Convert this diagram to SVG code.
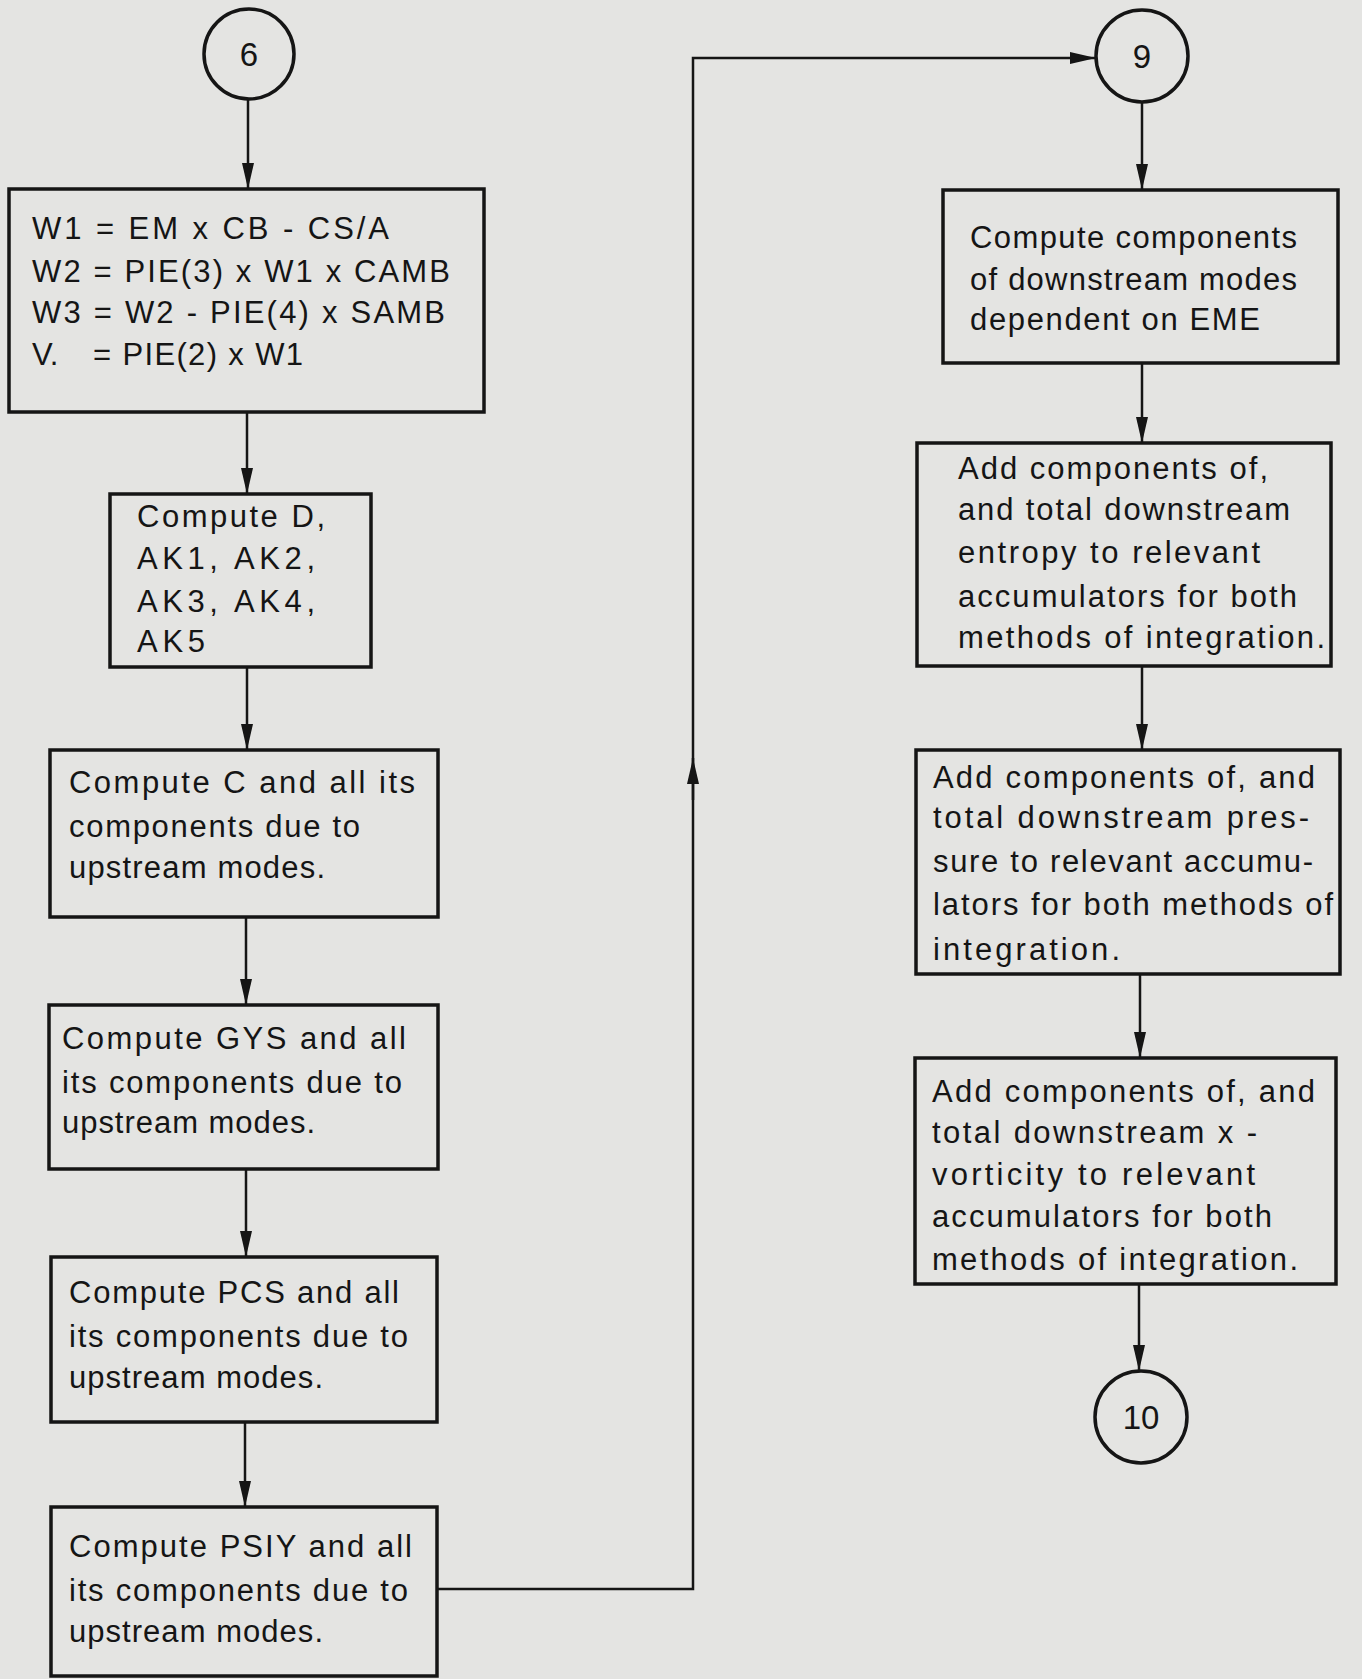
<svg xmlns="http://www.w3.org/2000/svg" width="1362" height="1679" viewBox="0 0 1362 1679">
<style>
.bg{fill:#e4e4e2}
.box{fill:none;stroke:#151515;stroke-width:3.5}
.circ{fill:none;stroke:#151515;stroke-width:3.5}
.conn{fill:none;stroke:#151515;stroke-width:2.5}
.t{font-family:"Liberation Sans",Arial,sans-serif;font-size:31px;fill:#151515}
.num{font-family:"Liberation Sans",Arial,sans-serif;font-size:33px;fill:#151515;text-anchor:middle}
</style>
<defs>
<marker id="arr" viewBox="0 0 26 12" refX="26" refY="6" markerUnits="userSpaceOnUse" markerWidth="26" markerHeight="12" orient="auto">
<path d="M0,0 L26,6 L0,12 Z" fill="#151515"/>
</marker>
</defs>
<rect class="bg" x="0" y="0" width="1362" height="1679"/>

<g id="connectors">
<path class="conn" d="M248,99 V189" marker-end="url(#arr)"/>
<path class="conn" d="M247,412 V494" marker-end="url(#arr)"/>
<path class="conn" d="M247,667 V750" marker-end="url(#arr)"/>
<path class="conn" d="M246,917 V1005" marker-end="url(#arr)"/>
<path class="conn" d="M246,1169 V1257" marker-end="url(#arr)"/>
<path class="conn" d="M245,1422 V1507" marker-end="url(#arr)"/>
<path class="conn" d="M437,1589 H693 V58 H1096" marker-end="url(#arr)"/>
<path class="conn" d="M693,800 V758" marker-end="url(#arr)"/>
<path class="conn" d="M1142,102 V190" marker-end="url(#arr)"/>
<path class="conn" d="M1142,363 V443" marker-end="url(#arr)"/>
<path class="conn" d="M1142,666 V750" marker-end="url(#arr)"/>
<path class="conn" d="M1140,974 V1058" marker-end="url(#arr)"/>
<path class="conn" d="M1139,1284 V1371" marker-end="url(#arr)"/>
</g>

<g id="c6">
<circle class="circ" cx="249" cy="54" r="45"/>
<text class="num" x="249" y="66">6</text>
</g>

<g id="box1">
<rect class="box" x="9" y="189" width="475" height="223"/>
<text class="t" x="32" y="239" textLength="357" lengthAdjust="spacing">W1 = EM x CB - CS/A</text>
<text class="t" x="32" y="282" textLength="418" lengthAdjust="spacing">W2 = PIE(3) x W1 x CAMB</text>
<text class="t" x="32" y="323" textLength="413" lengthAdjust="spacing">W3 = W2 - PIE(4) x SAMB</text>
<text class="t" y="365"><tspan x="32">V.</tspan><tspan x="93" textLength="210" lengthAdjust="spacing">= PIE(2) x W1</tspan></text>
</g>

<g id="box2">
<rect class="box" x="110" y="494" width="261" height="173"/>
<text class="t" x="137" y="527" textLength="188" lengthAdjust="spacing">Compute D,</text>
<text class="t" x="137" y="569" textLength="178" lengthAdjust="spacing">AK1, AK2,</text>
<text class="t" x="137" y="612" textLength="178" lengthAdjust="spacing">AK3, AK4,</text>
<text class="t" x="137" y="652" textLength="68" lengthAdjust="spacing">AK5</text>
</g>

<g id="box3">
<rect class="box" x="50" y="750" width="388" height="167"/>
<text class="t" x="69" y="793" textLength="346" lengthAdjust="spacing">Compute C and all its</text>
<text class="t" x="69" y="837" textLength="291" lengthAdjust="spacing">components due to</text>
<text class="t" x="69" y="878" textLength="256" lengthAdjust="spacing">upstream modes.</text>
</g>

<g id="box4">
<rect class="box" x="49" y="1005" width="389" height="164"/>
<text class="t" x="62" y="1049" textLength="344" lengthAdjust="spacing">Compute GYS and all</text>
<text class="t" x="62" y="1093" textLength="340" lengthAdjust="spacing">its components due to</text>
<text class="t" x="62" y="1133" textLength="253" lengthAdjust="spacing">upstream modes.</text>
</g>

<g id="box5">
<rect class="box" x="51" y="1257" width="386" height="165"/>
<text class="t" x="69" y="1303" textLength="330" lengthAdjust="spacing">Compute PCS and all</text>
<text class="t" x="69" y="1347" textLength="339" lengthAdjust="spacing">its components due to</text>
<text class="t" x="69" y="1388" textLength="254" lengthAdjust="spacing">upstream modes.</text>
</g>

<g id="box6">
<rect class="box" x="51" y="1507" width="386" height="169"/>
<text class="t" x="69" y="1557" textLength="343" lengthAdjust="spacing">Compute PSIY and all</text>
<text class="t" x="69" y="1601" textLength="339" lengthAdjust="spacing">its components due to</text>
<text class="t" x="69" y="1642" textLength="254" lengthAdjust="spacing">upstream modes.</text>
</g>

<g id="c9">
<circle class="circ" cx="1142" cy="56" r="46"/>
<text class="num" x="1142" y="68">9</text>
</g>

<g id="boxR1">
<rect class="box" x="943" y="190" width="395" height="173"/>
<text class="t" x="970" y="248" textLength="327" lengthAdjust="spacing">Compute components</text>
<text class="t" x="970" y="290" textLength="327" lengthAdjust="spacing">of downstream modes</text>
<text class="t" x="970" y="330" textLength="290" lengthAdjust="spacing">dependent on EME</text>
</g>

<g id="boxR2">
<rect class="box" x="917" y="443" width="414" height="223"/>
<text class="t" x="958" y="479" textLength="310" lengthAdjust="spacing">Add components of,</text>
<text class="t" x="958" y="520" textLength="332" lengthAdjust="spacing">and total downstream</text>
<text class="t" x="958" y="563" textLength="302" lengthAdjust="spacing">entropy to relevant</text>
<text class="t" x="958" y="607" textLength="339" lengthAdjust="spacing">accumulators for both</text>
<text class="t" x="958" y="648" textLength="367" lengthAdjust="spacing">methods of integration.</text>
</g>

<g id="boxR3">
<rect class="box" x="916" y="750" width="424" height="224"/>
<text class="t" x="933" y="788" textLength="382" lengthAdjust="spacing">Add components of, and</text>
<text class="t" x="933" y="828" textLength="376" lengthAdjust="spacing">total downstream pres-</text>
<text class="t" x="933" y="872" textLength="380" lengthAdjust="spacing">sure to relevant accumu-</text>
<text class="t" x="933" y="915" textLength="400" lengthAdjust="spacing">lators for both methods of</text>
<text class="t" x="933" y="960" textLength="187" lengthAdjust="spacing">integration.</text>
</g>

<g id="boxR4">
<rect class="box" x="915" y="1058" width="421" height="226"/>
<text class="t" x="932" y="1102" textLength="383" lengthAdjust="spacing">Add components of, and</text>
<text class="t" x="932" y="1143" textLength="325" lengthAdjust="spacing">total downstream x -</text>
<text class="t" x="932" y="1185" textLength="323" lengthAdjust="spacing">vorticity to relevant</text>
<text class="t" x="932" y="1227" textLength="340" lengthAdjust="spacing">accumulators for both</text>
<text class="t" x="932" y="1270" textLength="366" lengthAdjust="spacing">methods of integration.</text>
</g>

<g id="c10">
<circle class="circ" cx="1141" cy="1417" r="46"/>
<text class="num" x="1141" y="1429">10</text>
</g>
</svg>
